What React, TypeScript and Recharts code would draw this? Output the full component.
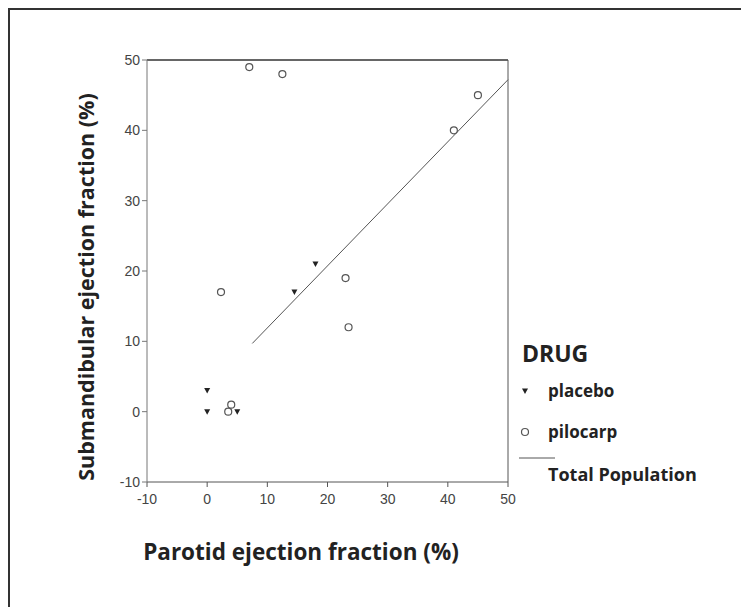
import { ReferenceLine, Scatter, ScatterChart, XAxis, YAxis } from "recharts";

// parotid (x) vs submandibular (y) ejection fraction, %
const placeboX = [0, 0, 5, 14.5, 18];
const placeboY = [3, 0, 0, 17, 21];
const pilocarpX = [2.3, 3.5, 4, 23, 23.5, 41, 45, 7, 12.5];
const pilocarpY = [17, 0, 1, 19, 12, 40, 45, 49, 48];
const fitX = [7.5, 50];
const fitY = [9.7, 47.2];
const axisTicks = [-10, 0, 10, 20, 30, 40, 50];

const placebo = placeboX.map((x, i) => ({ x, y: placeboY[i] }));
const pilocarp = pilocarpX.map((x, i) => ({ x, y: pilocarpY[i] }));
const fit = fitX.map((x, i) => ({ x, y: fitY[i] }));

const labelFont = "'Open Sans', 'DejaVu Sans', sans-serif";
const tickStyle = { fontSize: 14, fill: "#444", fontFamily: "'Liberation Sans', Arial, sans-serif" };

const Triangle = (props: any) => {
  const { cx, cy } = props;
  return <path d={`M${cx - 3},${cy - 2.5} L${cx + 3},${cy - 2.5} L${cx},${cy + 3} Z`} fill="#222" />;
};

const Ring = (props: any) => {
  const { cx, cy } = props;
  return <circle cx={cx} cy={cy} r={3.5} fill="none" stroke="#555" strokeWidth={1.2} />;
};

const NoDot = () => null;

function YLabel() {
  return (
    <text
      x={75}
      y={277}
      transform="rotate(-90, 75, 277)"
      textAnchor="middle"
      dominantBaseline="central"
      fontFamily={labelFont}
      fontWeight={700}
      fontSize={21.5}
      fill="#222"
    >
      Submandibular ejection fraction (%)
    </text>
  );
}

function XLabel() {
  return (
    <text x={291} y={550} textAnchor="middle" fontFamily={labelFont} fontWeight={700} fontSize={22.5} fill="#222">
      Parotid ejection fraction (%)
    </text>
  );
}

function DrugLegend() {
  return (
    <svg width={230} height={160} style={{ position: "absolute", left: 505, top: 325 }}>
      <text x={7} y={27} fontFamily={labelFont} fontWeight={700} fontSize={23} fill="#222">
        DRUG
      </text>
      <Triangle cx={10} cy={56} />
      <text x={33} y={62} fontFamily={labelFont} fontWeight={700} fontSize={17} fill="#222">
        placebo
      </text>
      <Ring cx={10} cy={97} />
      <text x={33} y={103} fontFamily={labelFont} fontWeight={700} fontSize={17} fill="#222">
        pilocarp
      </text>
      <line x1={4} x2={40} y1={123} y2={123} stroke="#555" strokeWidth={1} />
      <text x={33} y={146} fontFamily={labelFont} fontWeight={700} fontSize={18} fill="#222">
        Total Population
      </text>
    </svg>
  );
}

export default function App() {
  return (
    <div style={{ position: "relative", width: 741, height: 597, border: "2px solid #333", borderRight: "none", background: "#fff" }}>
      <ScatterChart width={741} height={597} margin={{ top: 50, right: 243, bottom: 95, left: 0 }}>
        <XAxis
          type="number"
          dataKey="x"
          domain={[-10, 50]}
          ticks={axisTicks}
          height={30}
          tick={tickStyle}
          tickSize={5}
          tickMargin={7}
          stroke="#555"
          label={<XLabel />}
        />
        <YAxis
          type="number"
          dataKey="y"
          domain={[-10, 50]}
          ticks={axisTicks}
          width={137}
          tick={tickStyle}
          tickSize={5}
          tickMargin={2}
          stroke="#777"
          label={<YLabel />}
        />
        <ReferenceLine y={50} stroke="#333" strokeWidth={1.5} ifOverflow="extendDomain" />
        <ReferenceLine x={50} stroke="#555" strokeWidth={1} ifOverflow="extendDomain" />
        <Scatter data={fit} line={{ stroke: "#555", strokeWidth: 1 }} shape={<NoDot />} isAnimationActive={false} />
        <Scatter data={placebo} shape={<Triangle />} isAnimationActive={false} />
        <Scatter data={pilocarp} shape={<Ring />} isAnimationActive={false} />
      </ScatterChart>
      <DrugLegend />
    </div>
  );
}
